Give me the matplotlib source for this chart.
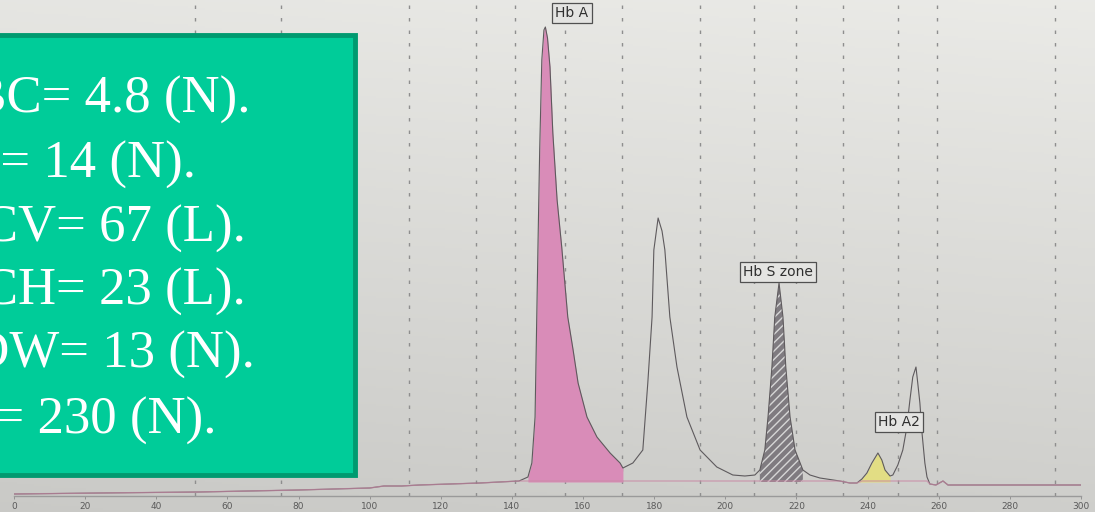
import numpy as np
import matplotlib
matplotlib.use("Agg")
import matplotlib.pyplot as plt
from matplotlib.patches import Rectangle

# electropherogram trace (migration units, signal height)
trace_x = [0, 24, 52, 80, 100, 104, 109, 114, 131, 142,
           144.5, 145.6, 146.5, 147.3, 147.8, 148.4, 149.0, 149.4, 150.0, 150.7,
           151.5, 152.7, 154.0, 155.7, 157.2, 158.6, 161.1, 163.9, 167.6, 170.4,
           171.2, 174.0, 176.8, 178.2, 179.4, 179.9, 181.1, 182.2, 183.0, 184.4,
           186.4, 189.2, 192.9, 197.6, 202.1, 205.5, 208.3, 209.7, 211.1, 212.0,
           213.1, 213.9, 215.1, 216.2, 217.0, 218.2, 219.6, 221.8, 223.8, 226.6,
           232.2, 235.0, 237.0, 238.4, 239.8, 241.2, 242.9, 244.0, 244.9, 246.3,
           247.1, 248.5, 249.9, 251.0, 251.9, 252.7, 253.6, 254.1, 254.7, 255.3,
           256.1, 256.7, 257.5, 259.2, 261.2, 262.6, 264.5, 277, 291, 300]
trace_y = [-1, 0, 1, 3, 5, 7, 7, 8, 10, 12,
           16, 30, 76, 243, 343, 433, 463, 466, 455, 426,
           360, 293, 246, 176, 143, 110, 76, 56, 40, 30,
           25, 30, 43, 110, 176, 243, 275, 262, 243, 176,
           126, 76, 43, 26, 18, 17, 18, 23, 43, 76,
           126, 176, 210, 176, 126, 76, 43, 23, 18, 15,
           12, 10, 10, 14, 20, 30, 40, 33, 23, 17,
           18, 28, 43, 65, 93, 116, 126, 110, 90, 60,
           30, 16, 9, 8, 12, 8, 8, 8, 8, 8]

# named fractions: label, start, end, label position
zone_names = ["Hb A", "Hb S zone", "Hb A2"]
zone_start = [144.5, 209.7, 237.0]
zone_end = [172.0, 222.0, 246.3]
zone_label_x = [156.9, 214.8, 248.8]
zone_label_y = [480, 221, 71]
zone_colors = ["#d98cb8", "#7f7b80", "#e2dd84"]
zone_hatch = [None, "////", None]

# dotted zone boundaries on the paper
zone_lines = [51, 75, 111, 130, 141, 155, 171, 193, 208, 220, 233, 248.5, 259.5, 292.6]

xticks = list(range(0, 301, 20))

# CBC values in the green box
cbc_lines = ["RBC= 4.8 (N).", "Hb= 14 (N).", "MCV= 67 (L).",
             "MCH= 23 (L).", "RDW= 13 (N).", "Plt= 230 (N)."]
cbc_baselines = [113, 177, 242, 305, 368, 433]   # pixel rows from top

W, H = 1095, 512
fig = plt.figure(figsize=(W / 100, H / 100), dpi=100)

# paper background, lighter at the top
bg = fig.add_axes([0, 0, 1, 1], zorder=-1)
grad = np.linspace(0, 1, 256).reshape(-1, 1) * np.ones((1, 64))
horiz = np.linspace(0, 1, 64).reshape(1, -1)
shade = 0.79 + 0.11 * (1 - grad) + 0.02 * horiz
bg.imshow(np.dstack([shade, shade, shade * 0.985]), aspect="auto",
          extent=[0, 1, 0, 1], origin="upper")
bg.axis("off")

ax = fig.add_axes([14 / W, 16 / H, (1081 - 14) / W, 496 / H])
ax.set_facecolor("none")
ax.set_xlim(0, 300)
ax.set_ylim(-3, 493)

for gx in zone_lines:
    ax.axvline(gx, color="#8e8e8e", lw=1.0, ls=(0, (2.5, 6.5)), zorder=1)

tx = np.array(trace_x)
ty = np.array(trace_y)
for name, s, e, c, hz in zip(zone_names, zone_start, zone_end, zone_colors, zone_hatch):
    m = (tx >= s) & (tx <= e)
    if hz:
        ax.fill_between(tx[m], ty[m], 11, facecolor=c, edgecolor="#d6d6d6",
                        hatch=hz, lw=0, zorder=2)
    else:
        ax.fill_between(tx[m], ty[m], 11, color=c, lw=0, zorder=2)

ax.plot(tx, ty, color="#5e5a5d", lw=0.8, zorder=3)
ax.plot(tx, np.minimum(ty, 12), color="#c98aa6", lw=1.0, alpha=0.7, zorder=3)

for name, lx, ly in zip(zone_names, zone_label_x, zone_label_y):
    ax.text(lx, ly, name, ha="center", va="center", fontsize=10, color="#2f2f2f",
            bbox=dict(boxstyle="square,pad=0.22", fc="#e4e4e2", ec="#505050", lw=0.9),
            zorder=4)

ax.set_xticks(xticks)
ax.set_yticks([])
ax.tick_params(axis="x", length=2, width=0.6, color="#8a8a8a", pad=2,
               labelsize=6.5, labelcolor="#5a5a5a")
for side in ["top", "left", "right"]:
    ax.spines[side].set_visible(False)
ax.spines["bottom"].set_color("#9a9a9a")
ax.spines["bottom"].set_linewidth(1.0)

# green overlay box with the blood count
box = Rectangle((-10 / W, (H - 475) / H), 365 / W, 440 / H, transform=fig.transFigure,
                facecolor="#00cc99", edgecolor="#009a70", lw=3.5, zorder=5)
fig.add_artist(box)
for line, b in zip(cbc_lines, cbc_baselines):
    fig.text(-64 / W, (H - b) / H, line, ha="left", va="baseline", color="white",
             fontsize=38, family="Liberation Serif", zorder=6)

fig.savefig("out.png", dpi=100)
